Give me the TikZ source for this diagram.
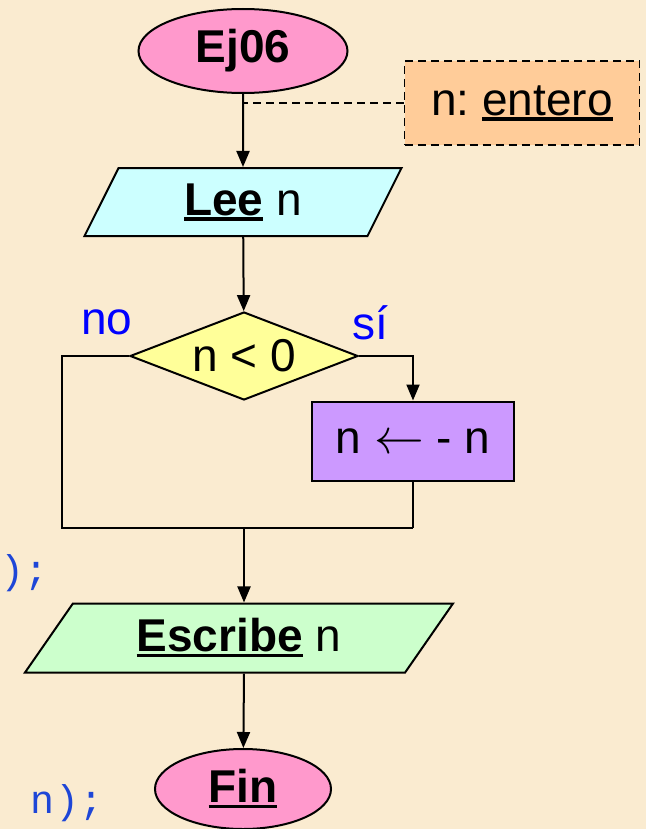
\documentclass[tikz,border=0pt]{standalone}
\usepackage{fontspec}
\setmainfont{Liberation Sans}
\newfontfamily\codefont{Liberation Mono}
\usepackage{tikz}
\usetikzlibrary{shapes.geometric,arrows.meta}

\definecolor{paper}{RGB}{250,235,208}
\definecolor{termpink}{RGB}{255,153,204}
\definecolor{readcyan}{RGB}{204,255,255}
\definecolor{condyellow}{RGB}{255,255,153}
\definecolor{procviolet}{RGB}{204,153,255}
\definecolor{writegreen}{RGB}{204,255,204}
\definecolor{declorange}{RGB}{255,204,153}
\definecolor{labelblue}{RGB}{0,0,255}
\definecolor{codeblue}{RGB}{30,70,215}

\frenchspacing
\newsavebox{\underbox}
\newcommand{\underscored}[1]{\sbox{\underbox}{#1}\rlap{\rule[-2.8pt]{\wd\underbox}{1.6pt}}\usebox{\underbox}}

\begin{document}
\begin{tikzpicture}[x=0.5pt, y=-0.5pt, line width=1pt,
        >={Triangle[length=8pt, width=6.5pt]},
        every node/.style={font=\fontsize{23}{27}\selectfont},
        terminal/.style={ellipse, draw, fill=termpink, inner sep=0pt},
        io/.style={trapezium, draw, trapezium stretches body, inner sep=0pt}]
        \fill[paper] (0,0) rectangle (646,829);
        \useasboundingbox (0,0) rectangle (646,829);

        \node[terminal, minimum width=104.5pt, minimum height=42pt] (start) at (243,51) {\textbf{Ej06}};
        \node[draw, dashed, dash pattern=on 4pt off 2.5pt, line width=0.8pt, fill=declorange, minimum width=117.5pt, minimum height=42pt] (decl) at (522,103) {n: \underscored{entero}};
        \node[io, fill=readcyan, trapezium left angle=47.6, trapezium right angle=132.4, minimum width=158.5pt, minimum height=34pt] (read) at (243,202) {\underscored{\textbf{Lee}} n};
        \node[diamond, draw, fill=condyellow, aspect=2.6, inner sep=0pt, minimum width=114pt, minimum height=44pt] (cond) at (244,356) {n < 0};
        \node[text=labelblue] (nolbl) at (107,322) {no};
        \node[text=labelblue] (silbl) at (370,323) {sí};
        \node[draw, fill=procviolet, minimum width=101pt, minimum height=39.5pt] (neg) at (413,441) {n $\leftarrow$ - n};
        \node[io, fill=writegreen, trapezium left angle=39.1, trapezium right angle=140.9, minimum width=214pt, minimum height=34.5pt] (write) at (239,638) {\underscored{\textbf{Escribe}} n};
        \node[terminal, minimum width=88pt, minimum height=40pt] (stop) at (243,789) {\underscored{\textbf{Fin}}};
        \node[anchor=west, inner sep=0pt, text=codeblue, font=\codefont\fontsize{20}{24}\selectfont] (codeA) at (0,573) {);};
        \node[anchor=west, inner sep=0pt, text=codeblue, font=\codefont\fontsize{20}{24}\selectfont] (codeB) at (30,803) {n);};

        \coordinate (noturn) at (62,528);
        \coordinate (siturn) at (413,528);
        \coordinate (merge) at (244,528);

        \draw[->] (start) -- (read);
        \draw[dashed, dash pattern=on 4pt off 2.5pt, line width=0.8pt] (decl.west) -- (decl.west -| start);
        \draw[->] (read) -- (cond);
        \draw[->] (cond.east) -| (neg.north);
        \draw (cond.west) -| (noturn) -- (siturn);
        \draw (neg.south) -- (siturn);
        \draw[->] (merge) -- (write.north -| merge);
        \draw[->] (write.south -| merge) -- (stop);
    \end{tikzpicture}
\end{document}
